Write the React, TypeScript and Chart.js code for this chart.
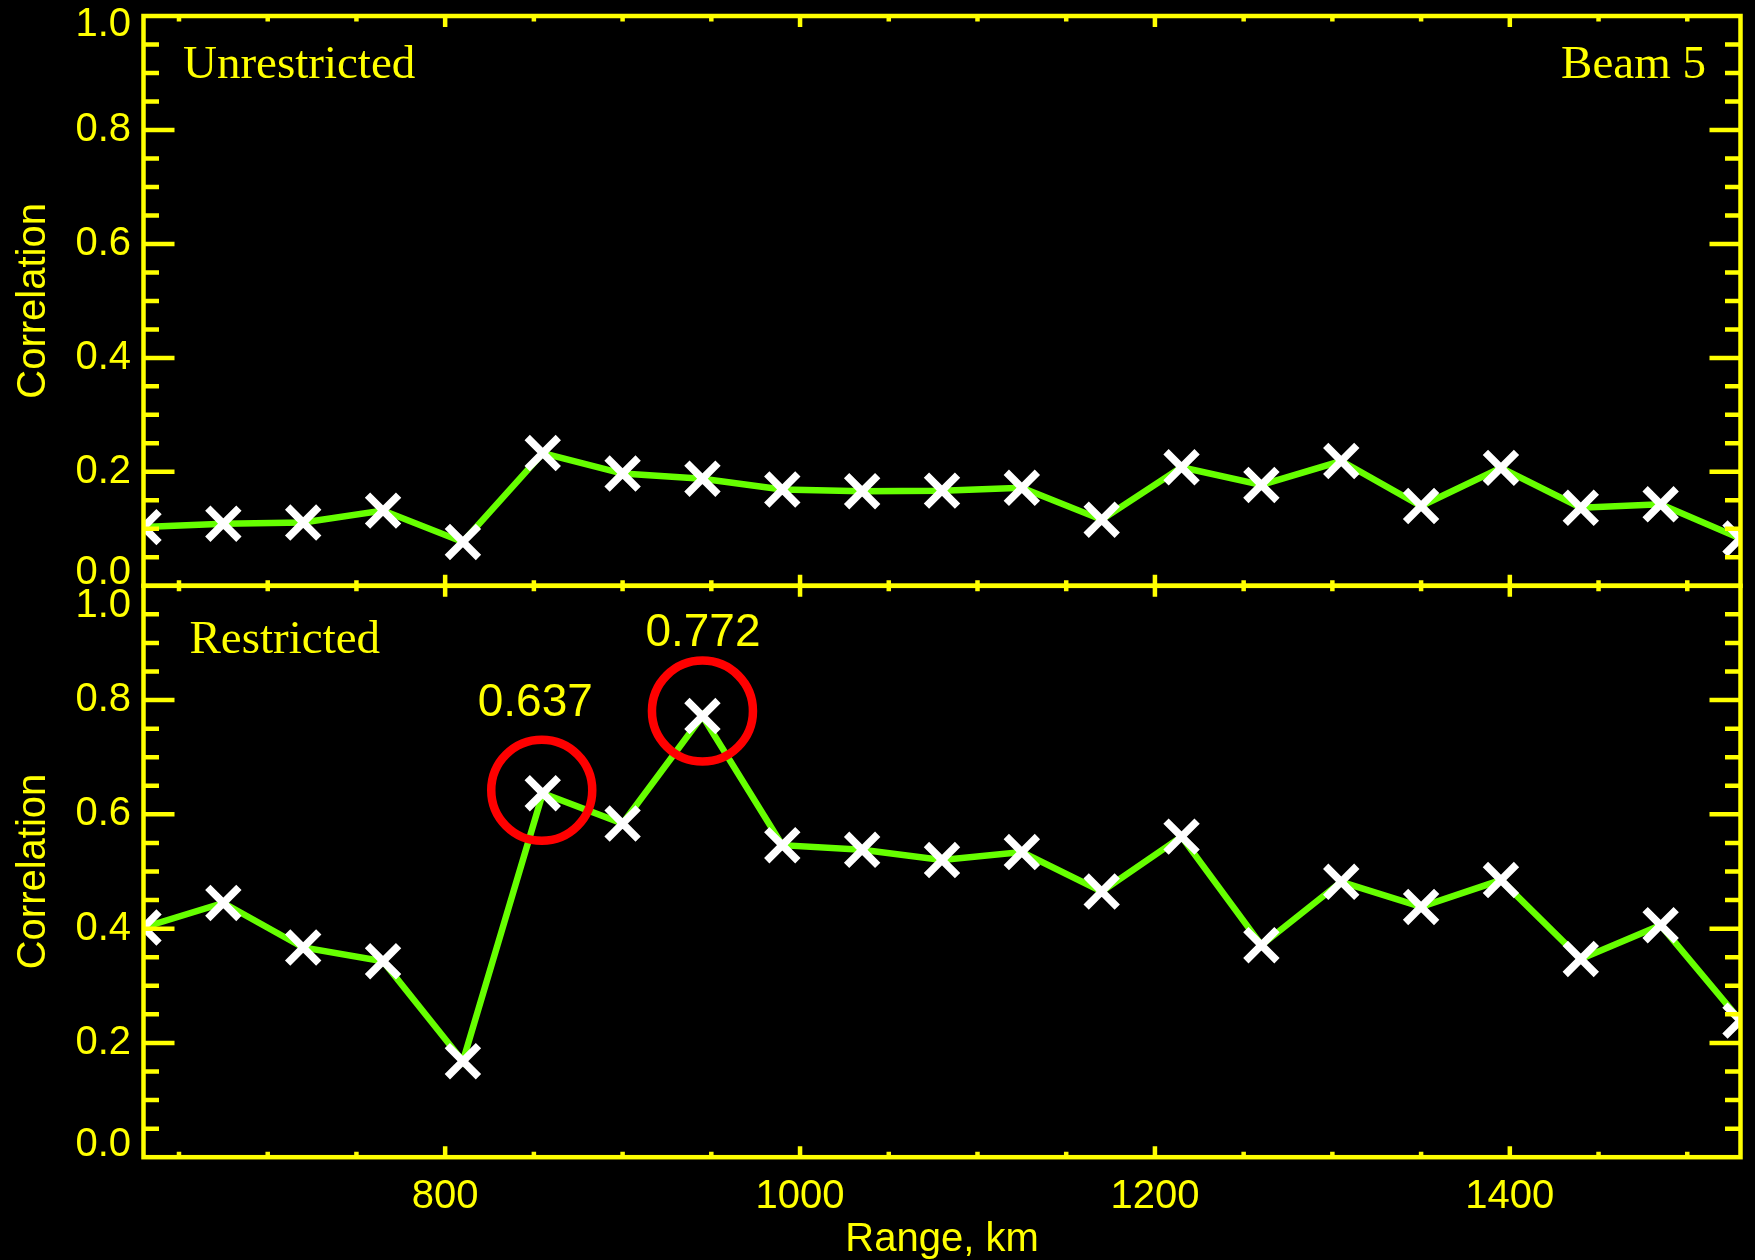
import React, { useEffect, useRef } from "react";
import { Chart, registerables } from "chart.js";

Chart.register(...registerables);

// ---------------- data ----------------
const rangeKm = [630, 675, 720, 765, 810, 855, 900, 945, 990, 1035, 1080, 1125, 1170, 1215, 1260, 1305, 1350, 1395, 1440, 1485, 1530];
const unrestricted = [0.103, 0.109, 0.111, 0.132, 0.077, 0.233, 0.197, 0.188, 0.169, 0.166, 0.167, 0.172, 0.116, 0.208, 0.177, 0.219, 0.140, 0.207, 0.137, 0.143, 0.083];
const restricted = [0.402, 0.445, 0.367, 0.343, 0.168, 0.637, 0.584, 0.772, 0.546, 0.538, 0.520, 0.534, 0.465, 0.561, 0.371, 0.482, 0.438, 0.485, 0.347, 0.406, 0.239];
const yTickValues = [0, 0.2, 0.4, 0.6, 0.8, 1.0];
const yTickLabels = ["0.0", "0.2", "0.4", "0.6", "0.8", "1.0"];
const xTickValues = [800, 1000, 1200, 1400];
const xTickLabels = ["800", "1000", "1200", "1400"];
const highlightIndex = [5, 7];
const highlightLabels = ["0.637", "0.772"];
const xMin = 630;
const xMax = 1530;

// ---------------- style ----------------
const W = 1755;
const H = 1260;
const YELLOW = "#ffff00";
const GREEN = "#66ff00";
const RED = "#ff0000";
const SANS = "'Liberation Sans', Arial, Helvetica, sans-serif";
const SERIF = "'Liberation Serif', 'Times New Roman', serif";
const PLOT_LEFT = 143.5;
const PLOT_RIGHT = 1740.5;
const AXIS_LW = 4.5;
const annotStyle = [
  { dx: -7.5, dy: -77, cdx: -1, cdy: -3 },
  { dx: 0.5, dy: -70, cdx: 0, cdy: -5 },
];

type PanelOpts = {
  top: number;
  bottom: number;
  values: number[];
  showXLabels: boolean;
  topLabelOffset: number;
  zeroLabelOffset: number;
  texts: { text: string; x: number; y: number; align: CanvasTextAlign }[];
  annotate: boolean;
};

function makePlugin(p: PanelOpts) {
  return {
    id: "idlFrame",
    afterDatasetsDraw(chart: any) {
      const ctx: CanvasRenderingContext2D = chart.ctx;
      const xs = chart.scales.x;
      const ys = chart.scales.y;
      const { left, right, top, bottom } = chart.chartArea;
      ctx.save();
      ctx.strokeStyle = YELLOW;
      ctx.fillStyle = YELLOW;
      ctx.lineWidth = AXIS_LW;
      ctx.lineCap = "butt";
      // frame
      ctx.strokeRect(left, top, right - left, bottom - top);
      // y ticks
      ctx.beginPath();
      for (let k = 1; k < 20; k++) {
        const v = k * 0.05;
        const y = ys.getPixelForValue(v);
        const len = k % 4 === 0 ? 31 : 15.5;
        ctx.moveTo(left, y);
        ctx.lineTo(left + len, y);
        ctx.moveTo(right, y);
        ctx.lineTo(right - len, y);
      }
      // x ticks
      for (let v = 650; v < xMax; v += 50) {
        const x = xs.getPixelForValue(v);
        const len = v % 200 === 0 ? 11 : 5.5;
        ctx.moveTo(x, bottom);
        ctx.lineTo(x, bottom - len);
        ctx.moveTo(x, top);
        ctx.lineTo(x, top + len);
      }
      ctx.stroke();

      // y tick labels
      ctx.font = `40px ${SANS}`;
      ctx.textAlign = "right";
      ctx.textBaseline = "middle";
      yTickValues.forEach((v, i) => {
        let y = ys.getPixelForValue(v);
        if (v === 0) y += p.zeroLabelOffset;
        if (v === 1) y += p.topLabelOffset;
        ctx.fillText(yTickLabels[i], left - 12.5, y);
      });

      // y title
      ctx.save();
      ctx.translate(45, (top + bottom) / 2);
      ctx.rotate(-Math.PI / 2);
      ctx.textAlign = "center";
      ctx.textBaseline = "alphabetic";
      ctx.fillText("Correlation", 0, 0);
      ctx.restore();

      // x labels
      if (p.showXLabels) {
        ctx.textAlign = "center";
        ctx.textBaseline = "alphabetic";
        xTickValues.forEach((v, i) => {
          ctx.fillText(xTickLabels[i], xs.getPixelForValue(v), 1208);
        });
        ctx.fillText("Range, km", (left + right) / 2, 1251);
      }

      // panel texts
      ctx.font = `47px ${SERIF}`;
      ctx.textBaseline = "alphabetic";
      p.texts.forEach((t) => {
        ctx.textAlign = t.align;
        ctx.fillText(t.text, t.x, t.y);
      });

      // annotations
      if (p.annotate) {
        highlightIndex.forEach((idx, i) => {
          const st = annotStyle[i];
          const px = xs.getPixelForValue(rangeKm[idx]);
          const py = ys.getPixelForValue(p.values[idx]);
          ctx.strokeStyle = RED;
          ctx.lineWidth = 8.5;
          ctx.beginPath();
          ctx.arc(px + st.cdx, py + st.cdy, 50.5, 0, Math.PI * 2);
          ctx.stroke();
          ctx.fillStyle = YELLOW;
          ctx.font = `46px ${SANS}`;
          ctx.textAlign = "center";
          ctx.fillText(highlightLabels[i], px + st.dx, py + st.dy);
        });
      }
      ctx.restore();
    },
  };
}

function makeChart(canvas: HTMLCanvasElement, p: PanelOpts) {
  return new Chart(canvas, {
    type: "line",
    data: {
      datasets: [
        {
          data: rangeKm.map((r, i) => ({ x: r, y: p.values[i] })),
          borderColor: GREEN,
          borderWidth: 6.5,
          pointStyle: "crossRot",
          pointRadius: 22,
          pointHoverRadius: 22,
          pointBorderColor: "#ffffff",
          pointBackgroundColor: "#ffffff",
          pointBorderWidth: 7.5,
          tension: 0,
          clip: 0,
        } as any,
      ],
    },
    options: {
      responsive: false,
      animation: false,
      events: [],
      layout: {
        autoPadding: false,
        padding: { left: PLOT_LEFT, right: W - PLOT_RIGHT, top: p.top, bottom: H - p.bottom },
      },
      scales: {
        x: { type: "linear", min: xMin, max: xMax, display: false },
        y: { type: "linear", min: 0, max: 1, display: false },
      },
      plugins: { legend: { display: false }, tooltip: { enabled: false } },
    } as any,
    plugins: [makePlugin(p)],
  });
}

export default function App() {
  const topRef = useRef<HTMLCanvasElement>(null);
  const botRef = useRef<HTMLCanvasElement>(null);

  useEffect(() => {
    document.body.style.margin = "0";
    document.body.style.background = "#000";
    const c1 = makeChart(topRef.current!, {
      top: 16,
      bottom: 585.8,
      values: unrestricted,
      showXLabels: false,
      topLabelOffset: 9,
      zeroLabelOffset: -12.5,
      texts: [
        { text: "Unrestricted", x: 183, y: 77.5, align: "left" },
        { text: "Beam 5", x: 1706, y: 77.5, align: "right" },
      ],
      annotate: false,
    });
    const c2 = makeChart(botRef.current!, {
      top: 585.8,
      bottom: 1157.2,
      values: restricted,
      showXLabels: true,
      topLabelOffset: 20,
      zeroLabelOffset: -12,
      texts: [{ text: "Restricted", x: 189.5, y: 653, align: "left" }],
      annotate: true,
    });
    return () => {
      c1.destroy();
      c2.destroy();
    };
  }, []);

  const canvasStyle: React.CSSProperties = { position: "absolute", left: 0, top: 0, display: "block" };
  return (
    <div style={{ position: "relative", width: W, height: H, background: "#000", overflow: "hidden" }}>
      <canvas ref={topRef} width={W} height={H} style={canvasStyle} />
      <canvas ref={botRef} width={W} height={H} style={canvasStyle} />
    </div>
  );
}
